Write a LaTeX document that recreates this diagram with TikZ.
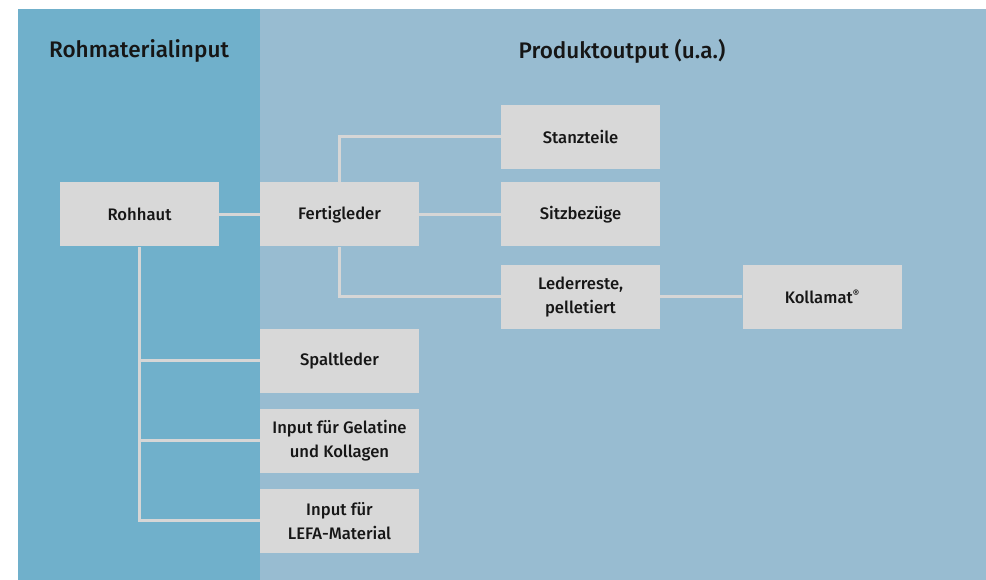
\documentclass[tikz,border=0pt]{standalone}
\usepackage{fontspec}
\setmainfont{Fira Sans}[UprightFont=* Medium]
\usetikzlibrary{positioning}
\definecolor{inputblue}{HTML}{70B0CB}
\definecolor{outputblue}{HTML}{98BCD1}
\definecolor{boxgray}{HTML}{D8D8D8}
\definecolor{linegray}{HTML}{D6D6D6}
\definecolor{textblack}{HTML}{161616}
\tikzset{
    % Panels
    panel title/.style={font=\fontsize{16.9}{20}\selectfont, text=textblack},
    %
    % Boxes and connectors
    stepbox/.style={fill=boxgray, minimum width=119.25pt, minimum height=48pt,
        inner sep=0pt, align=center, text=textblack},
    link/.style={linegray, line width=2.25pt}
}
\tikzstyle{every node}=[font=\fontsize{12.5}{18}\selectfont]

\begin{document}
\begin{tikzpicture}[x=0.75pt, y=-0.75pt]
    \useasboundingbox (0,0) rectangle (986,580);
    \fill[inputblue] (18,9) rectangle (260,580);
    \fill[outputblue] (260,9) rectangle (986,580);

    \node[panel title] (inTitle) at (139,51) {Rohmaterialinput};
    \node[panel title] (outTitle) at (622,51) {Produktoutput (u.a.)};

    \node[stepbox] (rohhaut) at (139.5,214.5) {Rohhaut};
    \node[stepbox] (fertig) at (339.5,214.5) {Fertigleder};
    \node[stepbox] (stanz) at (580.5,137) {Stanzteile};
    \node[stepbox] (sitz) at (580.5,214.5) {Sitzbezüge};
    \node[stepbox] (reste) at (580.5,297) {Lederreste,\\pelletiert};
    \node[stepbox] (kolla) at (822,297) {Kollamat\raisebox{0.35em}{\fontsize{7.5}{9}\selectfont®}};
    \node[stepbox] (spalt) at (339.5,361) {Spaltleder};
    \node[stepbox] (gelatine) at (339.5,441) {Input für Gelatine\\und Kollagen};
    \node[stepbox] (lefa) at (339.5,521) {Input für\\LEFA-Material};

    \draw[link] (rohhaut.east) -- (fertig.west);
    \draw[link] (rohhaut.south) |- (lefa.west);
    \draw[link] (rohhaut.south |- spalt.west) -- (spalt.west);
    \draw[link] (rohhaut.south |- gelatine.west) -- (gelatine.west);
    \draw[link] (fertig.north) |- (stanz.west);
    \draw[link] (fertig.east) -- (sitz.west);
    \draw[link] (fertig.south) |- (reste.west);
    \draw[link] (reste.east) -- (kolla.west);
\end{tikzpicture}
\end{document}
